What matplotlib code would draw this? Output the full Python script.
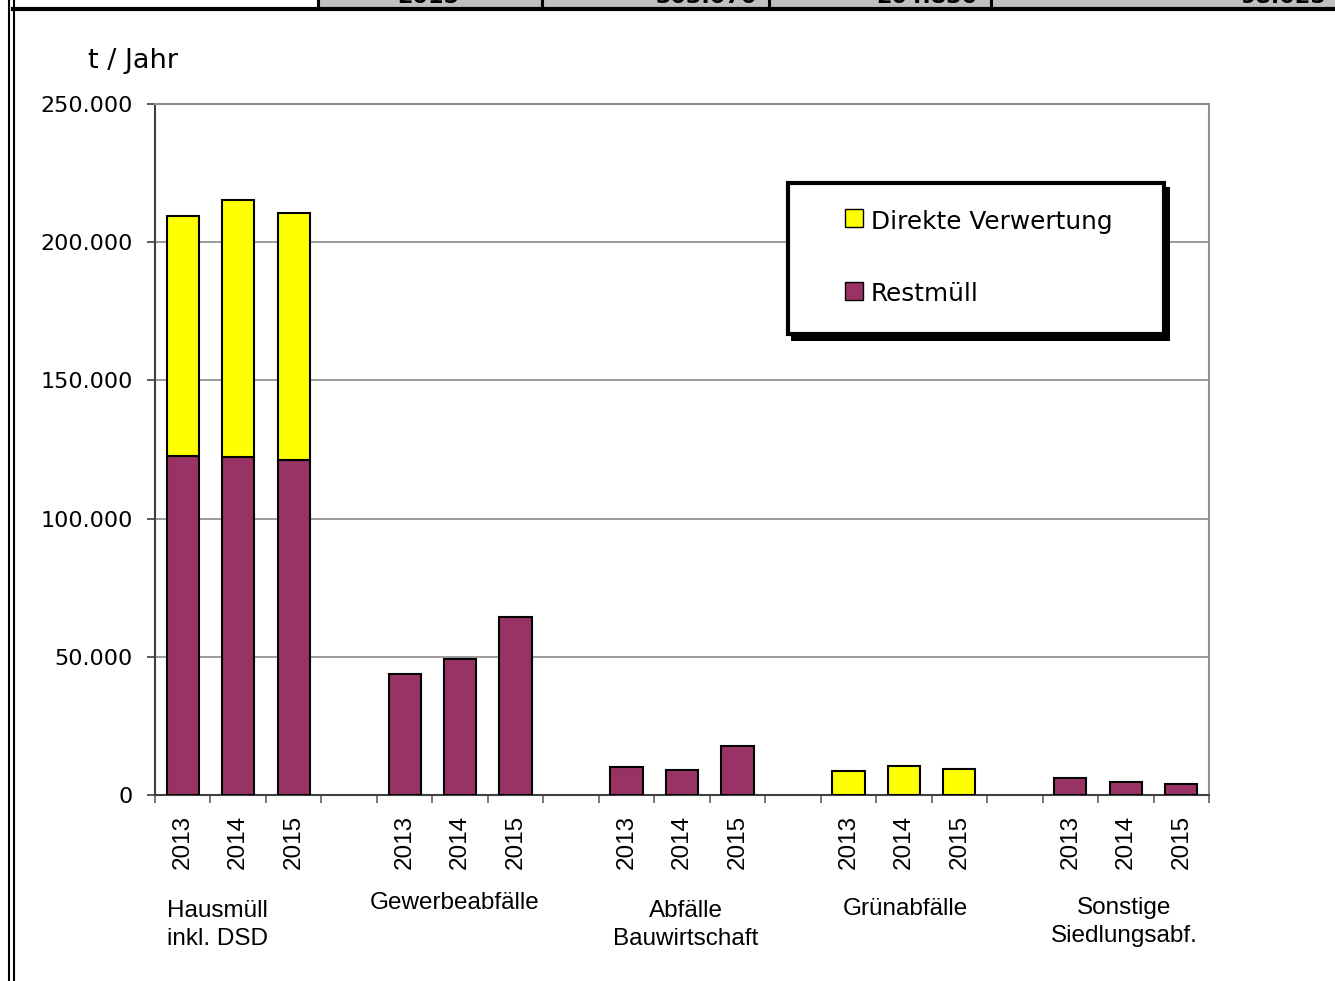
import numpy as np
import matplotlib
matplotlib.use("Agg")
import matplotlib.pyplot as plt
from matplotlib.patches import Rectangle
from matplotlib.lines import Line2D
from matplotlib.ticker import FuncFormatter, MultipleLocator
from matplotlib.transforms import blended_transform_factory

# Werte in t / Jahr
groups = ['Hausmüll\ninkl. DSD', 'Gewerbeabfälle', 'Abfälle\nBauwirtschaft', 'Grünabfälle', 'Sonstige\nSiedlungsabf.']
years = ['2013', '2014', '2015']
restmuell = [122600, 122300, 121200, 43800, 49200, 64400, 10100, 9000, 17700, 0, 0, 0, 6200, 4700, 4000]
direkt = [86900, 93000, 89400, 0, 0, 0, 0, 0, 0, 8700, 10500, 9400, 0, 0, 0]
series = ['Direkte Verwertung', 'Restmüll']
colors = ['#ffff00', '#993366']

# abgeschnittene Tabellenzeile oben
table_cells = ['2015', '303.070', '204.830', '98.025']

W, H = 1335, 981
fig = plt.figure(figsize=(W / 100, H / 100), dpi=100)
ax = fig.add_axes([155 / W, 186 / H, 1054 / W, 691 / H])

pos = np.array([g * 4 + j for g in range(len(groups)) for j in range(len(years))])
rest = np.array(restmuell)
dv = np.array(direkt)

m = rest > 0
ax.bar(pos[m], rest[m], width=0.58, color=colors[1], edgecolor='black', linewidth=1.5, zorder=3)
m2 = dv > 0
ax.bar(pos[m2], dv[m2], bottom=rest[m2], width=0.58, color=colors[0], edgecolor='black', linewidth=1.5, zorder=3)

ax.set_xlim(-0.5, 18.5)
ax.set_ylim(0, 250000)
ax.yaxis.set_major_locator(MultipleLocator(50000))
ax.yaxis.set_major_formatter(FuncFormatter(lambda v, p: f'{v:,.0f}'.replace(',', '.')))
ax.grid(axis='y', color='#808080', linewidth=1.1)
ax.set_axisbelow(True)

ax.set_xticks(pos)
ax.set_xticklabels(years * len(groups), rotation=90, fontsize=17.5, family='Liberation Sans')
ax.set_xticks(np.arange(-0.5, 19, 1), minor=True)
ax.tick_params(axis='x', which='major', length=0, pad=14)
ax.tick_params(axis='x', which='minor', length=6, width=1.2, color='#606060', direction='out')
ax.tick_params(axis='y', length=6, width=1.2, color='#404040', labelsize=16, pad=10)
for lab in ax.get_yticklabels():
    lab.set_family('DejaVu Sans')

for s in ['left', 'bottom']:
    ax.spines[s].set_color('#404040')
    ax.spines[s].set_linewidth(1.5)
for s in ['top', 'right']:
    ax.spines[s].set_color('#909090')
    ax.spines[s].set_linewidth(1.5)

# Gruppenbeschriftung
grp_x = [0.62, 4.91, 9.07, 13.02, 16.97]
grp_y = [-0.188, -0.156, -0.188, -0.165, -0.184]
tr = blended_transform_factory(ax.transData, ax.transAxes)
for lab, x, y in zip(groups, grp_x, grp_y):
    ax.text(x, y, lab, transform=tr, ha='center', va='center', fontsize=17.5,
            family='Liberation Sans', linespacing=1.35)

fig.text(88 / W, 1 - 68 / H, 't / Jahr', fontsize=19.5, family='DejaVu Sans', va='baseline')


# Legende (Kasten mit Schatten)
def axp(px, py):
    return ((px - 155) / 1054, (795 - py) / 691)


ax.add_patch(Rectangle(axp(791, 341), (1170 - 791) / 1054, (341 - 187) / 691, transform=ax.transAxes,
                       facecolor='black', edgecolor='none', clip_on=False, zorder=5))
ax.add_patch(Rectangle(axp(788, 334), (1164 - 788) / 1054, (334 - 183) / 691, transform=ax.transAxes,
                       facecolor='white', edgecolor='black', linewidth=3, clip_on=False, zorder=6))
for lab, col, yc, yb in zip(series, colors, [218, 291], [229, 301]):
    ax.add_patch(Rectangle(axp(845, yc + 9), 18 / 1054, 18 / 691, transform=ax.transAxes,
                           facecolor=col, edgecolor='black', linewidth=1, clip_on=False, zorder=7))
    x0, y0 = axp(871, yb)
    ax.text(x0, y0, lab, transform=ax.transAxes, fontsize=17.8, family='DejaVu Sans',
            va='baseline', ha='left', zorder=7)


# Rahmen und Tabellenrest oben
def fp(px, py):
    return (px / W, 1 - py / H)


fig.add_artist(Rectangle(fp(318, 8), (W - 318) / W, 8 / H, transform=fig.transFigure,
                         facecolor='#c0c0c0', edgecolor='none'))
for x in [318, 542, 769, 991]:
    fig.add_artist(Line2D([x / W, x / W], [1, 1 - 9 / H], transform=fig.transFigure, color='black', linewidth=2.2))
fig.add_artist(Line2D([13 / W, 1], [1 - 9 / H, 1 - 9 / H], transform=fig.transFigure, color='black', linewidth=3))
for x in [9, 14]:
    fig.add_artist(Line2D([x / W, x / W], [0, 1], transform=fig.transFigure, color='black', linewidth=1.5))

for txt, x, ha in zip(table_cells, [428, 757, 978, 1327], ['center', 'right', 'right', 'right']):
    fig.text(x / W, 1 - 3 / H, txt, fontsize=16, fontweight='bold', family='DejaVu Sans', ha=ha, va='baseline')

fig.savefig('out.png', dpi=100)
